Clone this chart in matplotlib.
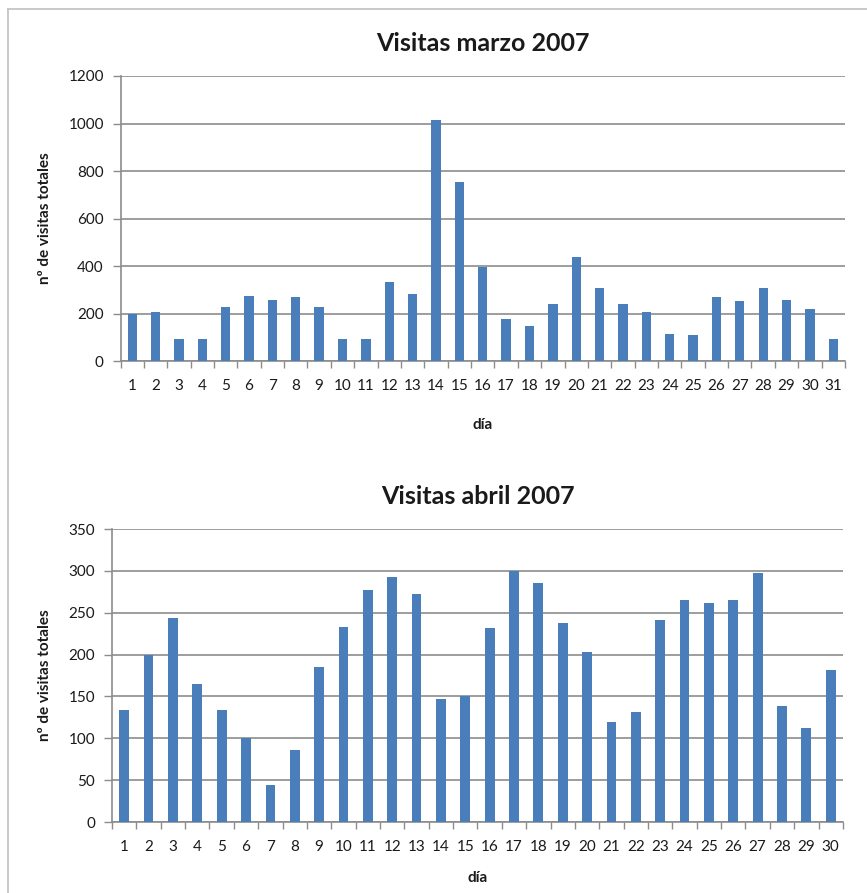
import numpy as np
import matplotlib
matplotlib.use('Agg')
import matplotlib.pyplot as plt
from matplotlib.lines import Line2D

plt.rcParams['font.family'] = ['Lato', 'DejaVu Sans']

##DATA##########################################################################
dias_marzo = list(range(1, 32))
visitas_marzo = [200, 206, 93, 93, 229, 274, 258, 269, 229, 93,
                 93, 331, 281, 1013, 752, 397, 177, 149, 240, 439,
                 307, 240, 205, 115, 108, 268, 251, 307, 257, 218, 93]

dias_abril = list(range(1, 31))
visitas_abril = [134, 200, 244, 165, 134, 100, 44, 86, 185, 233,
                 277, 293, 272, 147, 150, 232, 300, 286, 238, 203,
                 120, 131, 241, 265, 262, 265, 297, 138, 112, 181]

titulo_marzo = 'Visitas marzo 2007'
titulo_abril = 'Visitas abril 2007'
ylabel = 'nº de visitas totales'
xlabel = 'día'
################################################################################

bar_color = '#4a7ebb'
grid_color = '#8c8c8c'
text_color = '#1a1a1a'


def dibujar(ax, dias, visitas, ymax, ystep, titulo):
    x = np.arange(len(dias))
    ax.bar(x, visitas, width=0.4, color=bar_color, zorder=3)
    ax.set_xlim(-0.5, len(dias) - 0.5)
    ax.set_ylim(0, ymax)
    ax.set_yticks(np.arange(0, ymax + 1, ystep))
    ax.yaxis.grid(True, color=grid_color, linewidth=1.2, zorder=0)
    ax.set_xticks(x)
    ax.set_xticklabels([str(d) for d in dias])
    ax.set_xticks(np.arange(-0.5, len(dias) + 0.5, 1), minor=True)
    ax.tick_params(axis='x', which='major', length=0, pad=13, labelsize=11,
                   labelcolor=text_color)
    ax.tick_params(axis='x', which='minor', length=5, color=grid_color, width=1)
    ax.tick_params(axis='y', length=6, color=grid_color, width=1, pad=6,
                   labelsize=11, labelcolor=text_color)
    for s in ['top', 'right']:
        ax.spines[s].set_visible(False)
    for s in ['left', 'bottom']:
        ax.spines[s].set_color(grid_color)
        ax.spines[s].set_linewidth(1.2)
    ax.set_title(titulo, fontsize=18, fontweight='bold', pad=18, color=text_color)
    ax.set_xlabel(xlabel, fontsize=11, fontweight='bold', labelpad=18, color=text_color)
    ax.set_ylabel(ylabel, fontsize=11, fontweight='bold', labelpad=12, color=text_color)


fig = plt.figure(figsize=(8.67, 8.93), dpi=100)

ax1 = fig.add_axes([0.139, 0.5957, 0.8356, 0.3192])
dibujar(ax1, dias_marzo, visitas_marzo, 1200, 200, titulo_marzo)

ax2 = fig.add_axes([0.1292, 0.0795, 0.843, 0.3281])
dibujar(ax2, dias_abril, visitas_abril, 350, 50, titulo_abril)
ax2.xaxis.labelpad = 12

# marco exterior (solo izquierda y arriba visibles)
fig.add_artist(Line2D([8 / 867, 8 / 867], [0, 1 - 9 / 893], color='#c0c0c0', lw=1.2))
fig.add_artist(Line2D([8 / 867, 1], [1 - 9 / 893, 1 - 9 / 893], color='#c0c0c0', lw=1.2))

fig.savefig('out.png', dpi=100)
